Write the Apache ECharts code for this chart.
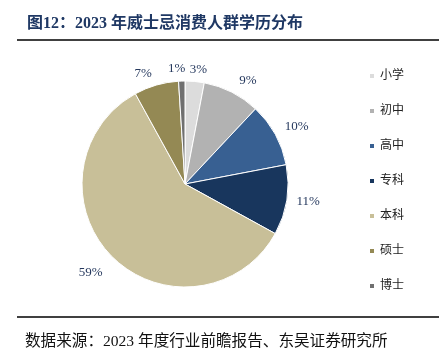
<!DOCTYPE html>
<html><head><meta charset="utf-8">
<script src="https://cdn.jsdelivr.net/npm/echarts@6/dist/echarts.min.js"></script>
<style>html,body{margin:0;padding:0;background:#fff}#c{width:443px;height:357px}</style>
</head><body><div id="c"></div>
<script>
const categories = ['小学','初中','高中','专科','本科','硕士','博士'];
const values = [3, 9, 10, 11, 59, 7, 1];
const colors = ['#dcdcdc','#b2b2b2','#386092','#18365d','#c8bf98','#948954','#707070'];
// small label nudges (style only) to mimic the reference label placement
const labelNudge = [[-11,0],[-3,-1],[-6,-2],[-7,0],[4,7],[4,0],[9,0]];
const titleText = '图12：2023 年威士忌消费人群学历分布';
const sourceText = '数据来源：2023 年度行业前瞻报告、东吴证券研究所';
const serif = '"Liberation Serif","DejaVu Serif","Noto Sans CJK SC",serif';
const chart = echarts.init(document.getElementById('c'));
chart.setOption({
  animation:false,
  backgroundColor:'#fff',
  title:{text:titleText,left:22,top:11,textStyle:{fontFamily:serif,fontSize:16,fontWeight:'bold',color:'#1f3864'}},
  legend:{orient:'vertical',left:363,top:65,itemWidth:6,itemHeight:6,itemGap:23,icon:'rect',
    data:categories,textStyle:{fontFamily:serif,fontSize:12,color:'#222'}},
  graphic:[
    {type:'line',shape:{x1:17,y1:40,x2:439,y2:40},style:{stroke:'#000',lineWidth:1.5}},
    {type:'line',shape:{x1:17,y1:317,x2:439,y2:317},style:{stroke:'#000',lineWidth:1.5}},
    {type:'text',left:25,top:334,style:{text:sourceText,font:'15.6px '+serif,fill:'#111'}}
  ],
  series:[{
    type:'pie',center:[185,184],radius:[0,103],startAngle:90,clockwise:true,
    avoidLabelOverlap:false,
    color:colors,
    itemStyle:{borderColor:'#fff',borderWidth:1},
    label:{show:true,position:'outside',formatter:'{c}%',fontFamily:serif,fontSize:13,color:'#26395e'},
    labelLine:{show:false,length:12,length2:0},
    labelLayout:{hideOverlap:false},
    data:categories.map((n,i)=>({name:n,value:values[i],label:{offset:labelNudge[i]}}))
  }]
});
</script></body></html>
